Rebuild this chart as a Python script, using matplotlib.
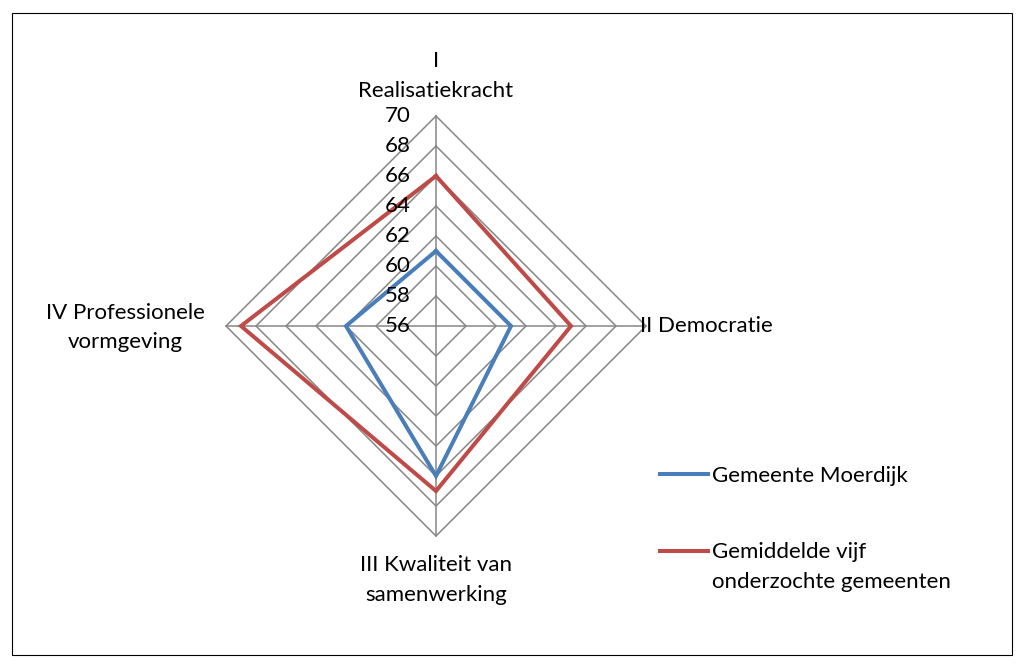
import numpy as np
import matplotlib.pyplot as plt
from matplotlib.patches import Rectangle
from matplotlib.legend_handler import HandlerLine2D

plt.rcParams['font.family'] = ['Lato', 'DejaVu Sans']

categories = ["I\nRealisatiekracht", "II Democratie",
              "III Kwaliteit van\nsamenwerking", "IV Professionele\nvormgeving"]
moerdijk = [61, 61, 66, 62]
gemiddelde = [66, 65, 67, 69]
ticks = [56, 58, 60, 62, 64, 66, 68, 70]
series_names = ["Gemeente Moerdijk", "Gemiddelde vijf\nonderzochte gemeenten"]

r_min, r_max = ticks[0], ticks[-1]
# clockwise, starting at the top
angles = np.pi / 2 - np.arange(len(categories)) * 2 * np.pi / len(categories)


def to_xy(vals):
    r = np.asarray(vals, dtype=float) - r_min
    x = r * np.cos(angles)
    y = r * np.sin(angles)
    return np.append(x, x[0]), np.append(y, y[0])


class TopLineHandler(HandlerLine2D):
    # put the legend line next to the first text line (Excel style)
    def __init__(self, shift=0, **kw):
        super().__init__(**kw)
        self.shift = shift

    def create_artists(self, *args, **kw):
        arts = super().create_artists(*args, **kw)
        for a in arts:
            a.set_ydata(np.asarray(a.get_ydata()) + self.shift)
        return arts


W, H = 1025, 668
cx, cy = 436, 326   # centre in pixels (from top)
s = 15.0            # pixels per unit

fig = plt.figure(figsize=(W / 100, H / 100), dpi=100)
ax = fig.add_axes([0, 0, 1, 1])
ax.set_xlim(-cx / s, (W - cx) / s)
ax.set_ylim(-(H - cy) / s, cy / s)
ax.axis('off')

fs = 16

# polygon gridlines
for t in ticks[1:]:
    gx, gy = to_xy([t] * len(categories))
    ax.plot(gx, gy, color='#868686', lw=1.1, zorder=1)
# spokes
for a in angles:
    ax.plot([0, (r_max - r_min) * np.cos(a)], [0, (r_max - r_min) * np.sin(a)],
            color='#868686', lw=1.1, zorder=1)

# radial tick labels
for t in ticks:
    ax.text(-1.7, t - r_min, str(t), ha='right', va='center', fontsize=fs, zorder=3)

# series
mx, my = to_xy(moerdijk)
gx, gy = to_xy(gemiddelde)
l1, = ax.plot(mx, my, color='#4A7EBB', lw=2.9, solid_joinstyle='miter', zorder=2,
              label=series_names[0])
l2, = ax.plot(gx, gy, color='#BE4B48', lw=2.9, solid_joinstyle='miter', zorder=2,
              label=series_names[1])

# category labels
ax.text(0, (cy - 101) / s, categories[0], ha='center', va='bottom', fontsize=fs,
        linespacing=1.6)
ax.text((640 - cx) / s, 0, categories[1], ha='left', va='center', fontsize=fs)
ax.text(0, (cy - 555) / s, categories[2], ha='center', va='top', fontsize=fs,
        linespacing=1.65)
ax.text((125 - cx) / s, -0.1, categories[3], ha='center', va='center', fontsize=fs,
        linespacing=1.6)

leg = fig.legend(handles=[l1, l2], loc='upper left',
                 bbox_to_anchor=(660 / W, 1 - 466 / H),
                 frameon=False, fontsize=fs, handlelength=2.15, handletextpad=0.2,
                 labelspacing=2.5, borderpad=0, borderaxespad=0,
                 handler_map={l2: TopLineHandler(shift=11.5)})
for txt in leg.get_texts():
    txt.set_linespacing(1.65)

# outer border
fig.patches.append(Rectangle((12 / W, 13 / H), 1000 / W, 642 / H,
                             transform=fig.transFigure, fill=False,
                             edgecolor='#000000', lw=0.8))

fig.savefig('out.png', dpi=100)
